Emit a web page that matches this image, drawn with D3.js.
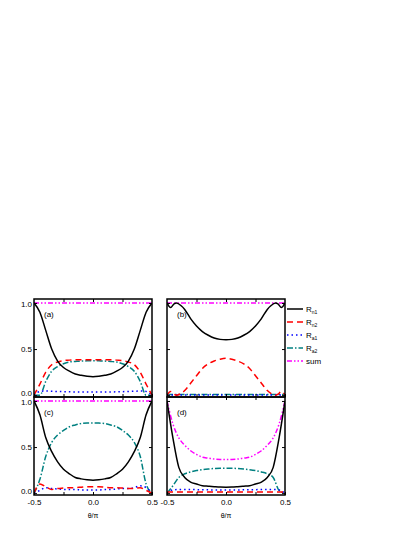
<!DOCTYPE html>
<html><head><meta charset="utf-8">
<script src="https://cdn.jsdelivr.net/npm/d3@7"></script>
<style>body{margin:0;background:#fff}svg{font-family:"Liberation Sans",Arial,sans-serif}</style>
</head><body><div id="chart"></div>
<script>
// theta/pi sample points
const theta = [-0.5,-0.45,-0.4,-0.35,-0.3,-0.25,-0.2,-0.15,-0.1,-0.05,0,0.05,0.1,0.15,0.2,0.25,0.3,0.35,0.4,0.45,0.5];
const thetaB = [-0.5,-0.47,-0.44,-0.42,-0.38,-0.35,-0.3,-0.25,-0.2,-0.15,-0.1,-0.05,0,0.05,0.1,0.15,0.2,0.25,0.3,0.35,0.38,0.42,0.44,0.47,0.5];

// panel (a)
const aN1 = [1,0.9,0.7,0.5,0.37,0.3,0.26,0.23,0.215,0.205,0.2,0.205,0.215,0.23,0.26,0.3,0.37,0.5,0.7,0.9,1];
const aN2 = [0,0.12,0.25,0.33,0.36,0.375,0.38,0.385,0.385,0.385,0.385,0.385,0.385,0.385,0.38,0.375,0.36,0.33,0.25,0.12,0];
const aA1 = [0,0.04,0.045,0.042,0.04,0.038,0.036,0.035,0.034,0.034,0.034,0.034,0.034,0.035,0.036,0.038,0.04,0.042,0.045,0.04,0];
const aA2 = [0,0.0,0.15,0.26,0.31,0.34,0.36,0.365,0.37,0.372,0.373,0.372,0.37,0.365,0.36,0.34,0.31,0.26,0.15,0.0,0];
const aSum = theta.map(() => 1);

// panel (b)
const bN1 = [1,0.95,0.99,1,0.97,0.93,0.83,0.75,0.69,0.65,0.62,0.605,0.6,0.605,0.62,0.65,0.69,0.75,0.83,0.93,0.97,1,0.99,0.95,1];
const bN2 = [0,0.04,0.01,0,0.02,0.05,0.13,0.21,0.29,0.34,0.37,0.39,0.4,0.39,0.37,0.34,0.29,0.21,0.13,0.05,0.02,0,0.01,0.04,0];
const bA1 = thetaB.map(() => 0.003);
const bA2 = thetaB.map(() => 0.006);
const bSum = thetaB.map(() => 1);

// panel (c)
const cN1 = [1,0.85,0.6,0.45,0.34,0.26,0.21,0.17,0.155,0.145,0.14,0.145,0.155,0.17,0.21,0.26,0.34,0.45,0.6,0.85,1];
const cN2 = [0,0.1,0.07,0.04,0.05,0.055,0.06,0.06,0.065,0.07,0.07,0.07,0.065,0.06,0.06,0.055,0.05,0.05,0.06,0.03,0];
const cA1 = [0,0.03,0.06,0.05,0.045,0.04,0.04,0.04,0.035,0.035,0.035,0.035,0.04,0.04,0.045,0.05,0.05,0.06,0.08,0.06,0];
const cA2 = [0,0.15,0.4,0.55,0.63,0.68,0.72,0.74,0.755,0.76,0.76,0.76,0.755,0.74,0.72,0.68,0.63,0.55,0.4,0.1,0];
const cSum = theta.map(() => 1);

// panel (d)
const dN1 = [1,0.6,0.28,0.17,0.12,0.1,0.08,0.075,0.07,0.066,0.065,0.066,0.07,0.075,0.08,0.1,0.12,0.17,0.28,0.6,1];
const dN2 = theta.map(() => 0.012);
const dA1 = [0,0.035,0.04,0.04,0.04,0.038,0.037,0.036,0.035,0.035,0.035,0.035,0.035,0.036,0.037,0.038,0.04,0.04,0.04,0.035,0];
const dA2 = [0,0.08,0.17,0.21,0.23,0.245,0.255,0.262,0.267,0.27,0.27,0.27,0.267,0.262,0.255,0.245,0.23,0.21,0.17,0.03,0];
const dSum = [1,0.75,0.6,0.52,0.46,0.42,0.39,0.38,0.37,0.366,0.365,0.366,0.37,0.38,0.39,0.42,0.46,0.52,0.6,0.75,1];

const yTicks = [0, 0.5, 1.0];
const xTicks = [-0.5, 0, 0.5];
const legendNames = [["R","n1"],["R","n2"],["R","a1"],["R","a2"],["sum",""]];

const styles = [
  {color:"#000", dash:null, w:1.5},
  {color:"#f00", dash:"6,4", w:1.5},
  {color:"#00f", dash:"1.5,3", w:1.5},
  {color:"#008080", dash:"6,2,1.5,2", w:1.5},
  {color:"#f0f", dash:"5,2,1.5,2,1.5,2", w:1.5}
];

const panels = [
  {label:"(a)", x:theta, s:[aN1,aN2,aA1,aA2,aSum], left:34, top:299, yl:true, xl:false},
  {label:"(b)", x:thetaB, s:[bN1,bN2,bA1,bA2,bSum], left:167, top:299, yl:false, xl:false},
  {label:"(c)", x:theta, s:[cN1,cN2,cA1,cA2,cSum], left:34, top:397, yl:true, xl:true},
  {label:"(d)", x:theta, s:[dN1,dN2,dA1,dA2,dSum], left:167, top:397, yl:false, xl:true}
];
const pw = 118, ph = 98;
const fmt = d => d.toFixed(1);

const svg = d3.select("#chart").append("svg").attr("width",415).attr("height",537);

panels.forEach(p => {
  const g = svg.append("g").attr("transform",`translate(${p.left},${p.top})`);
  const x = d3.scaleLinear().domain([-0.5,0.5]).range([0,pw]);
  const y = d3.scaleLinear().domain([-0.02,1.043]).range([ph,0]);

  const clip = "clip" + p.label.replace(/\W/g,"");
  g.append("clipPath").attr("id",clip).append("rect").attr("width",pw).attr("height",ph);

  const line = d3.line().x((d,i) => x(p.x[i])).y(d => y(d)).curve(d3.curveMonotoneX);
  // draw in reverse so black sits on top
  [4,3,2,1,0].forEach(k => {
    g.append("path").datum(p.s[k]).attr("clip-path",`url(#${clip})`)
      .attr("d",line).attr("fill","none")
      .attr("stroke",styles[k].color).attr("stroke-width",styles[k].w)
      .attr("stroke-dasharray",styles[k].dash);
  });

  // ticks inward
  const yAx = g.append("g").call(d3.axisLeft(y).tickValues(yTicks).tickSize(-3).tickFormat(p.yl ? fmt : ""));
  g.append("g").attr("transform",`translate(${pw},0)`).call(d3.axisRight(y).tickValues(yTicks).tickSize(-3).tickFormat(""));
  const xAx = g.append("g").attr("transform",`translate(0,${ph})`)
    .call(d3.axisBottom(x).tickValues([-0.5,-0.25,0,0.25,0.5]).tickSize(-3).tickFormat(d => p.xl && xTicks.includes(d) ? fmt(d) : ""));
  g.append("g").call(d3.axisTop(x).tickValues([-0.25,0,0.25]).tickSize(-3).tickFormat(""));
  g.selectAll(".domain").remove();
  g.selectAll(".tick line").attr("stroke","#000");
  g.selectAll(".tick text").attr("font-size",8).attr("fill","#000");
  yAx.selectAll(".tick text").attr("x",-2).attr("dy", d => d === 0 ? "0.1em" : (d === 1 ? "0.45em" : "0.32em"));
  xAx.selectAll(".tick text").attr("y",4);

  g.append("rect").attr("width",pw).attr("height",ph).attr("fill","none").attr("stroke","#000").attr("stroke-width",1.5);
  g.append("text").attr("x",10).attr("y",18).attr("font-size",8).text(p.label);
  if (p.xl) g.append("text").attr("x",pw/2).attr("y",ph+23).attr("text-anchor","middle").attr("font-size",7).text("θ/π");
});

// legend
const lg = svg.append("g").attr("transform","translate(287,309)");
legendNames.forEach((n,i) => {
  const r = lg.append("g").attr("transform",`translate(0,${i*13})`);
  r.append("line").attr("x1",0).attr("x2",16).attr("stroke",styles[i].color)
    .attr("stroke-width",1.5).attr("stroke-dasharray",styles[i].dash);
  const t = r.append("text").attr("x",19).attr("y",3).attr("font-size",8).text(n[0]);
  if (n[1]) t.append("tspan").attr("font-size",5).attr("dy",2).text(n[1]);
});
</script></body></html>
